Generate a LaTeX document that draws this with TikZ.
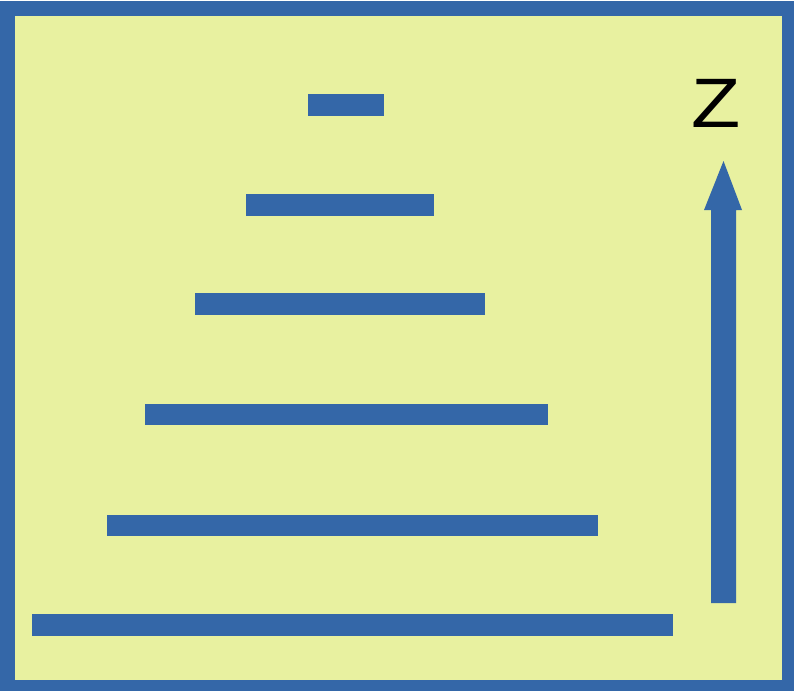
\documentclass[tikz,border=0pt]{standalone}
\usepackage{fontspec}
\setmainfont{Liberation Sans}
\definecolor{frameblue}{RGB}{52,103,168}
\definecolor{paleyellow}{RGB}{232,241,160}
\begin{document}
\begin{tikzpicture}[x=1pt,y=-1pt,
  bar/.style={fill=frameblue},
  label/.style={inner sep=0pt,font=\fontsize{70}{70}\selectfont,text=black}]
\useasboundingbox (0,0) rectangle (794,691);
% frame
\fill[frameblue] (0,1) rectangle (794,691);
\fill[paleyellow] (15,16) rectangle (782,680);
% bars
\fill[bar] (308,94) rectangle (384,116);
\fill[bar] (246,194) rectangle (434,216);
\fill[bar] (195,293) rectangle (485,315);
\fill[bar] (145,404) rectangle (548,425);
\fill[bar] (107,515) rectangle (598,536);
\fill[bar] (32,614) rectangle (673,636);
% arrow
\coordinate (abase) at (723.5,603);
\coordinate (atip) at (723.5,161);
\fill[frameblue] (711,603) -- (711,210) -- (704,210) -- (atip) -- (742,210) -- (736,210) -- (736,603) -- cycle;
% label
\node[label,anchor=base] (z) at (716.5,127) {\scalebox{1.15}[1]{Z}};
\end{tikzpicture}
\end{document}
